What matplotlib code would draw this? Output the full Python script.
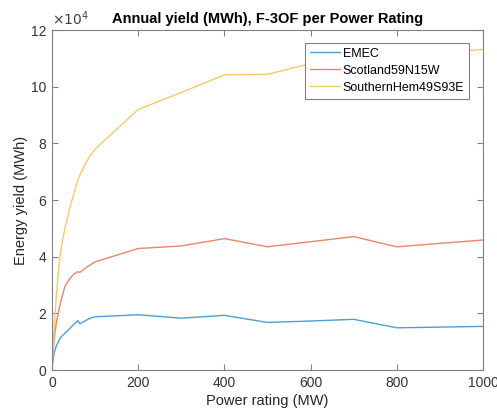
import matplotlib
matplotlib.use("Agg")
import matplotlib.pyplot as plt
import numpy as np

# power rating (MW) and annual yield (units of 1e4 MWh)
rating = [1, 5, 10, 15, 20, 30, 40, 50, 60, 65, 70, 80, 90, 100,
          200, 300, 400, 500, 600, 700, 800, 1000]
emec = [0.2, 0.6, 0.85, 1.0, 1.15, 1.3, 1.45, 1.6, 1.74, 1.63, 1.68, 1.76, 1.84, 1.88,
        1.95, 1.83, 1.93, 1.68, 1.73, 1.79, 1.49, 1.54]
scotland = [0.35, 1.1, 1.65, 2.05, 2.4, 2.95, 3.2, 3.38, 3.47, 3.45, 3.5, 3.63, 3.72, 3.82,
            4.29, 4.38, 4.64, 4.35, 4.53, 4.71, 4.35, 4.59]
southern = [0.3, 1.5, 2.6, 3.5, 4.2, 5.0, 5.65, 6.2, 6.7, 6.9, 7.05, 7.35, 7.6, 7.8,
            9.2, 9.8, 10.42, 10.44, 10.82, 10.95, 11.08, 11.32]
names = ["EMEC", "Scotland59N15W", "SouthernHem49S93E"]
colors = ["#4b9fd6", "#e8876a", "#f5cb66"]

plt.rcParams["font.family"] = ["Liberation Sans", "DejaVu Sans"]

fig = plt.figure(figsize=(4.97, 4.13), dpi=100)
ax = fig.add_axes([0.1046, 0.1041, 0.9718 - 0.1046, 0.927 - 0.1041])

for ys, name, c in zip([emec, scotland, southern], names, colors):
    ax.plot(rating, np.array(ys) * 1e4, color=c, lw=1.0, label=name)

ax.set_xlim(0, 1000)
ax.set_ylim(0, 12e4)
ax.set_xticks(np.arange(0, 1001, 200))
ax.set_yticks(np.arange(0, 12.1, 2) * 1e4)
ax.set_yticklabels([str(int(v)) for v in np.arange(0, 12.1, 2)])
ax.text(0.0, 1.005, r"$\times10^4$", transform=ax.transAxes, fontsize=10,
        color="#404040", ha="left", va="bottom")

for s in ax.spines.values():
    s.set_color("#808080")
    s.set_linewidth(0.8)
ax.tick_params(direction="in", top=True, right=True, length=4, width=0.8,
               color="#808080", labelsize=10, labelcolor="#333333", pad=4)

ax.set_xlabel("Power rating (MW)", fontsize=10.5, color="#262626", labelpad=3)
ax.set_ylabel("Energy yield (MWh)", fontsize=10.5, color="#262626", labelpad=2)
ax.set_title("Annual yield (MWh), F-3OF per Power Rating", fontsize=10.5,
             fontweight="bold", pad=5)

leg = ax.legend(loc="upper right", bbox_to_anchor=(0.968, 0.963), fontsize=9,
                fancybox=False, framealpha=1, edgecolor="#808080",
                handlelength=2.4, handletextpad=0.25, borderpad=0.4,
                labelspacing=0.4, borderaxespad=0)
leg.get_frame().set_linewidth(0.8)

fig.savefig("out.png", dpi=100)
